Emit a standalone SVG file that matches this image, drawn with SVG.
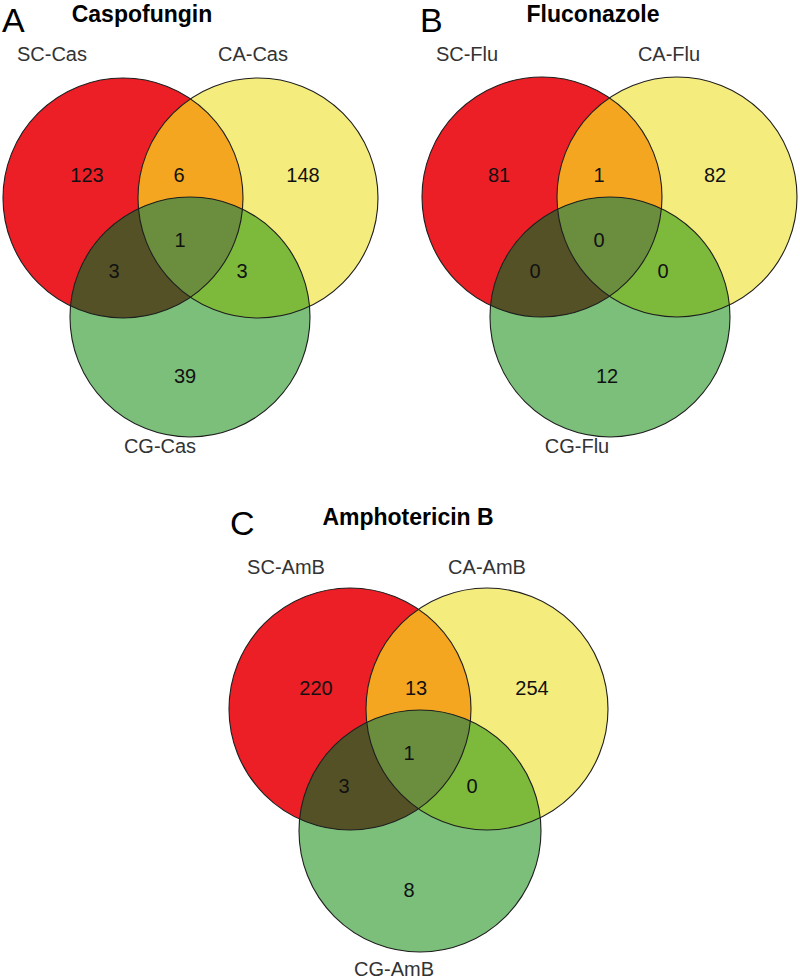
<svg xmlns="http://www.w3.org/2000/svg" width="800" height="980" viewBox="0 0 800 980">
<style>
.bg{fill:#ffffff}
.red{fill:#ec1f26}
.yel{fill:#f5ec7e}
.grn{fill:#7bbf7b}
.ry{fill:#f4a620}
.rg{fill:#545127}
.yg{fill:#7dba3c}
.ryg{fill:#6a8e3e}
.ol{fill:none;stroke:#1e1e1e;stroke-width:1.1}
.lab{font-family:"Liberation Sans",Arial,sans-serif;font-size:20px;fill:#333333;text-anchor:middle}
.num{font-family:"Liberation Sans",Arial,sans-serif;font-size:20px;fill:#111111;text-anchor:middle}
.ttl{font-family:"Liberation Sans",Arial,sans-serif;font-size:23px;font-weight:bold;fill:#000000;text-anchor:middle}
.pl{font-family:"Liberation Sans",Arial,sans-serif;font-size:34px;fill:#000000}
</style>
<defs>
<clipPath id="cAR" clipPathUnits="userSpaceOnUse"><circle cx="123" cy="198" r="120"/></clipPath>
<clipPath id="cAY" clipPathUnits="userSpaceOnUse"><circle cx="258" cy="198" r="120"/></clipPath>
<clipPath id="cBR" clipPathUnits="userSpaceOnUse"><circle cx="542" cy="197" r="120"/></clipPath>
<clipPath id="cBY" clipPathUnits="userSpaceOnUse"><circle cx="677" cy="197" r="120"/></clipPath>
<clipPath id="cCR" clipPathUnits="userSpaceOnUse"><circle cx="350" cy="709" r="121"/></clipPath>
<clipPath id="cCY" clipPathUnits="userSpaceOnUse"><circle cx="487" cy="709" r="121"/></clipPath>
</defs>
<rect class="bg" x="0" y="0" width="800" height="980"/>

<g id="panelA">
  <text class="pl" x="2" y="32">A</text>
  <text class="ttl" x="142" y="22">Caspofungin</text>
  <g id="A-shapes">
    <circle class="red" cx="123" cy="198" r="120"/>
    <circle class="yel" cx="258" cy="198" r="120"/>
    <circle class="grn" cx="190" cy="317" r="120"/>
    <circle class="ry" cx="258" cy="198" r="120" clip-path="url(#cAR)"/>
    <circle class="rg" cx="190" cy="317" r="120" clip-path="url(#cAR)"/>
    <circle class="yg" cx="190" cy="317" r="120" clip-path="url(#cAY)"/>
    <g clip-path="url(#cAY)"><circle class="ryg" cx="190" cy="317" r="120" clip-path="url(#cAR)"/></g>
    <circle class="ol" cx="123" cy="198" r="120"/>
    <circle class="ol" cx="258" cy="198" r="120"/>
    <circle class="ol" cx="190" cy="317" r="120"/>
  </g>
  <text class="lab" x="52" y="61">SC-Cas</text>
  <text class="lab" x="253" y="61">CA-Cas</text>
  <text class="lab" x="160" y="453">CG-Cas</text>
  <text class="num" x="87" y="182">123</text>
  <text class="num" x="179" y="182">6</text>
  <text class="num" x="303" y="182">148</text>
  <text class="num" x="180" y="247">1</text>
  <text class="num" x="114" y="278">3</text>
  <text class="num" x="242" y="278">3</text>
  <text class="num" x="185" y="383">39</text>
</g>

<g id="panelB">
  <text class="pl" x="420" y="32">B</text>
  <text class="ttl" x="593" y="22">Fluconazole</text>
  <g id="B-shapes">
    <circle class="red" cx="542" cy="197" r="120"/>
    <circle class="yel" cx="677" cy="197" r="120"/>
    <circle class="grn" cx="610" cy="317" r="120"/>
    <circle class="ry" cx="677" cy="197" r="120" clip-path="url(#cBR)"/>
    <circle class="rg" cx="610" cy="317" r="120" clip-path="url(#cBR)"/>
    <circle class="yg" cx="610" cy="317" r="120" clip-path="url(#cBY)"/>
    <g clip-path="url(#cBY)"><circle class="ryg" cx="610" cy="317" r="120" clip-path="url(#cBR)"/></g>
    <circle class="ol" cx="542" cy="197" r="120"/>
    <circle class="ol" cx="677" cy="197" r="120"/>
    <circle class="ol" cx="610" cy="317" r="120"/>
  </g>
  <text class="lab" x="467" y="61">SC-Flu</text>
  <text class="lab" x="669" y="61">CA-Flu</text>
  <text class="lab" x="577" y="453">CG-Flu</text>
  <text class="num" x="499" y="182">81</text>
  <text class="num" x="599" y="182">1</text>
  <text class="num" x="715" y="182">82</text>
  <text class="num" x="599" y="247">0</text>
  <text class="num" x="535" y="278">0</text>
  <text class="num" x="663" y="278">0</text>
  <text class="num" x="607" y="383">12</text>
</g>

<g id="panelC">
  <text class="pl" x="230" y="535">C</text>
  <text class="ttl" x="408" y="525">Amphotericin B</text>
  <g id="C-shapes">
    <circle class="red" cx="350" cy="709" r="121"/>
    <circle class="yel" cx="487" cy="709" r="121"/>
    <circle class="grn" cx="420" cy="831" r="121"/>
    <circle class="ry" cx="487" cy="709" r="121" clip-path="url(#cCR)"/>
    <circle class="rg" cx="420" cy="831" r="121" clip-path="url(#cCR)"/>
    <circle class="yg" cx="420" cy="831" r="121" clip-path="url(#cCY)"/>
    <g clip-path="url(#cCY)"><circle class="ryg" cx="420" cy="831" r="121" clip-path="url(#cCR)"/></g>
    <circle class="ol" cx="350" cy="709" r="121"/>
    <circle class="ol" cx="487" cy="709" r="121"/>
    <circle class="ol" cx="420" cy="831" r="121"/>
  </g>
  <text class="lab" x="286" y="574">SC-AmB</text>
  <text class="lab" x="487" y="574">CA-AmB</text>
  <text class="lab" x="394" y="976">CG-AmB</text>
  <text class="num" x="316" y="695">220</text>
  <text class="num" x="416" y="695">13</text>
  <text class="num" x="532" y="695">254</text>
  <text class="num" x="409" y="760">1</text>
  <text class="num" x="344" y="793">3</text>
  <text class="num" x="472" y="793">0</text>
  <text class="num" x="409" y="897">8</text>
</g>
</svg>
